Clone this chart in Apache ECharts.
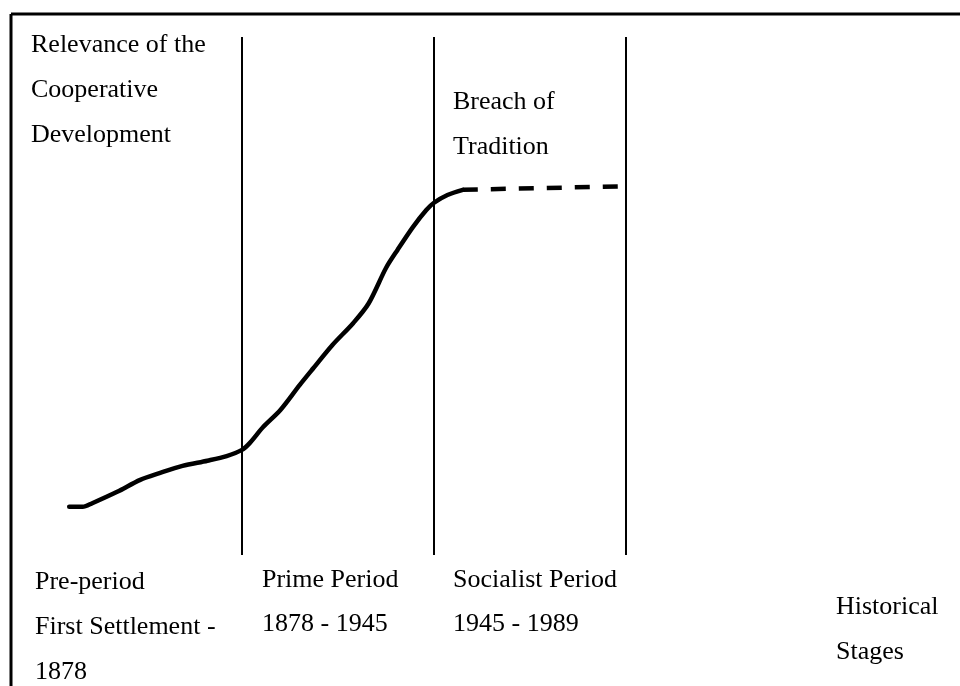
<!DOCTYPE html>
<html>
<head>
<meta charset="utf-8">
<script src="https://cdn.jsdelivr.net/npm/echarts@6/dist/echarts.min.js"></script>
<style>
html,body{margin:0;padding:0;background:#fff;}
#chart{width:960px;height:686px;}
</style>
</head>
<body>
<div id="chart"></div>
<script>
// Period boundaries (x in period units)
const periodBounds = [1, 2, 3];
// Solid curve: relevance of cooperative development
const solidX = [0.10, 0.17, 0.22, 0.35, 0.47, 0.57, 0.69, 0.82, 0.92, 1.00, 1.04, 1.11, 1.20, 1.30, 1.37, 1.47, 1.58, 1.66, 1.75, 1.81, 1.89, 1.96, 2.00, 2.07, 2.15];
const solidY = [9.3, 9.3, 10.0, 12.2, 14.5, 15.8, 17.2, 18.2, 19.1, 20.3, 21.6, 24.7, 28.0, 32.8, 36.0, 40.5, 44.8, 48.6, 55.4, 58.9, 63.3, 66.6, 68.0, 69.5, 70.5];
// Dashed continuation (breach of tradition)
const dashX = [2.15, 3.01];
const dashY = [70.5, 71.2];
// Texts
const yTitle = ['Relevance of the', 'Cooperative', 'Development'];
const breachText = ['Breach of', 'Tradition'];
const periodLabels = [
  ['Pre-period', 'First Settlement -', '1878'],
  ['Prime Period', '1878 - 1945'],
  ['Socialist Period', '1945 - 1989']
];
const xTitle = ['Historical', 'Stages'];

const FONT = "'Liberation Serif', 'Times New Roman', Times, serif";
const FS = 26;

function textBlock(lines, x, y0, lh) {
  return lines.map((t, i) => ({
    type: 'text', left: x, top: y0 + i * lh,
    style: { text: t, fontSize: FS, fontFamily: FONT, fill: '#000' }
  }));
}

const chart = echarts.init(document.getElementById('chart'), null, { renderer: 'canvas' });
const graphics = [
  { type: 'line', shape: { x1: 11, y1: 14, x2: 960, y2: 14 }, style: { stroke: '#000', lineWidth: 3 } },
  { type: 'line', shape: { x1: 11, y1: 14, x2: 11, y2: 686 }, style: { stroke: '#000', lineWidth: 3 } }
]
  .concat(textBlock(yTitle, 31, 32, 45))
  .concat(textBlock(breachText, 453, 89, 45))
  .concat(textBlock(periodLabels[0], 35, 569, 45))
  .concat(textBlock(periodLabels[1], 262, 567, 44))
  .concat(textBlock(periodLabels[2], 453, 567, 44))
  .concat(textBlock(xTitle, 836, 594, 45));

chart.setOption({
  animation: false,
  backgroundColor: '#fff',
  textStyle: { fontFamily: FONT },
  grid: { left: 50, right: 46, top: 37, bottom: 131 },
  xAxis: { type: 'value', min: 0, max: 4.5, show: false },
  yAxis: { type: 'value', min: 0, max: 100, show: false },
  graphic: graphics,
  series: [
    {
      type: 'line',
      data: solidX.map((x, i) => [x, solidY[i]]),
      smooth: 0.3,
      showSymbol: false,
      lineStyle: { color: '#000', width: 4.5, cap: 'round' },
      markLine: {
        silent: true,
        symbol: 'none',
        label: { show: false },
        lineStyle: { color: '#000', width: 2, type: 'solid' },
        data: periodBounds.map(b => ({ xAxis: b }))
      }
    },
    {
      type: 'line',
      data: dashX.map((x, i) => [x, dashY[i]]),
      showSymbol: false,
      lineStyle: { color: '#000', width: 4.5, type: [15, 13], cap: 'butt' }
    }
  ]
});
</script>
</body>
</html>
